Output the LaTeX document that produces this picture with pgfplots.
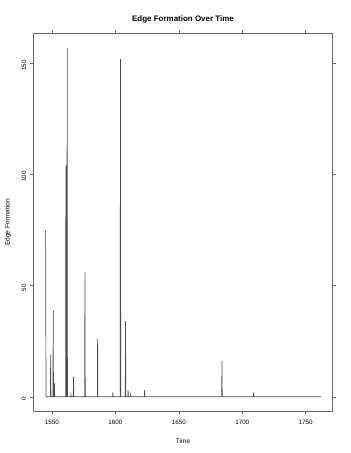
\documentclass[border=0pt]{standalone}
\usepackage{pgfplots}
\pgfplotsset{compat=1.18}
\usepackage{fontspec}
\setmainfont{Liberation Sans}
\begin{document}
\begin{tikzpicture}[x=1bp,y=1bp]
\path[use as bounding box] (0,0) rectangle (350,453);
\begin{axis}[
  at={(33.3bp,42bp)}, anchor=south west,
  scale only axis,
  width=299.4bp, height=377.3bp,
  xmin=1535.3, xmax=1771.3,
  ymin=-6.4, ymax=163.4,
  xtick={1550,1600,1650,1700,1750},
  ytick={0,50,100,150},
  tick align=outside,
  major tick length=3.5bp,
  axis line style={black!60, line width=0.5bp},
  every tick/.style={black!60, line width=0.5bp},
  /pgf/number format/assume math mode=true,
  /pgf/number format/1000 sep={},
  tick label style={font=\fontsize{6.3}{7}\selectfont},
  xticklabel style={anchor=north, yshift=-2bp},
  yticklabel style={rotate=90, anchor=south, xshift=-2bp},
  title={Edge Formation Over Time},
  title style={font=\fontsize{8}{9}\selectfont\bfseries, at={(axis description cs:0.5,1)}, anchor=center, yshift=8bp},
  xlabel={Time},
  xlabel style={font=\fontsize{6.6}{7.5}\selectfont, at={(axis description cs:0.5,0)}, anchor=center, yshift=-29.7bp},
  ylabel={Edge Formation},
  ylabel style={font=\fontsize{6.6}{7.5}\selectfont, at={(axis description cs:-0.0845,0.5)}, anchor=center},
]
\addplot[black!70, line width=0.7bp, mark=none] coordinates {
(1545,75) (1545.3,0)
(1548.8,0) (1549,19) (1549.2,0)
(1550.8,0) (1551,39) (1551.2,0)
(1551.8,0) (1552,6) (1552.2,0)
(1560.8,0) (1561,104) (1561.2,0)
(1561.8,0) (1562,157) (1562.2,0)
(1564.8,0) (1565,1) (1565.2,0)
(1566.8,0) (1567,9) (1567.2,0)
(1575.8,0) (1576,56) (1576.2,0)
(1585.8,0) (1586,26) (1586.2,0)
(1597.8,0) (1598,2) (1598.2,0)
(1603.8,0) (1604,152) (1604.2,0)
(1607.8,0) (1608,34) (1608.2,0)
(1609.8,0) (1610,3) (1610.2,0)
(1611.8,0) (1612,1) (1612.2,0)
(1622.8,0) (1623,3) (1623.2,0)
(1683.8,0) (1684,16) (1684.2,0)
(1708.8,0) (1709,2) (1709.2,0)
(1762,0)
};
\end{axis}
\end{tikzpicture}
\end{document}
